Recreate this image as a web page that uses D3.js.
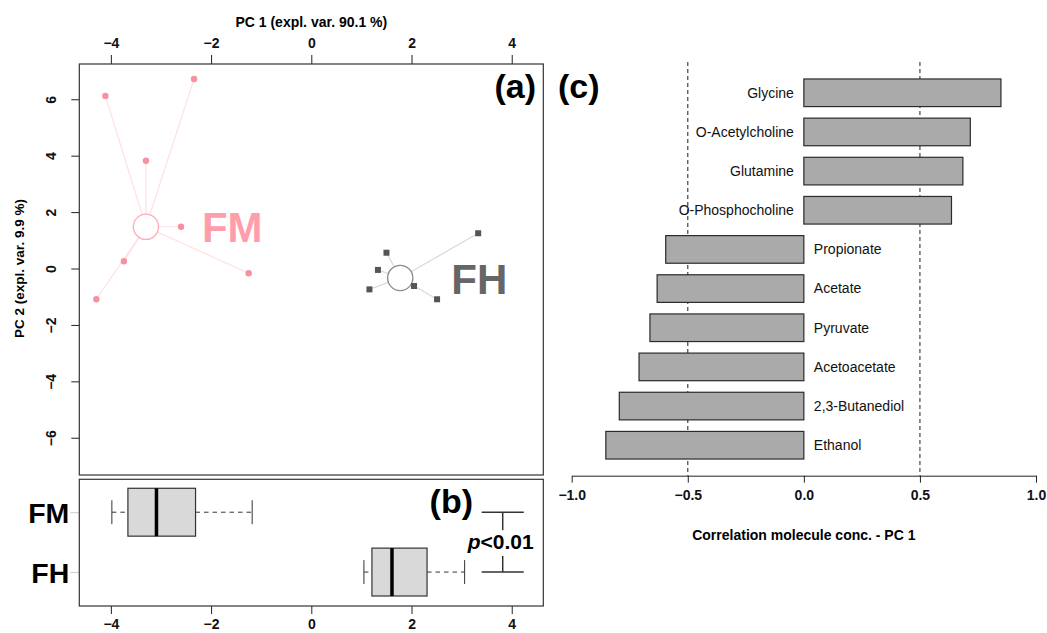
<!DOCTYPE html>
<html>
<head>
<meta charset="utf-8">
<script src="https://cdn.jsdelivr.net/npm/d3@7"></script>
<style>
  body { margin: 0; background: #fff; }
  svg { display: block; font-family: "Liberation Sans", Arial, sans-serif; }
</style>
</head>
<body>
<div class="chart"></div>
<script>
// PCA scores, group FM (pink circles)
const fmPC1 = [-4.11, -2.34, -3.30, -2.60, -1.25, -3.74, -4.29];
const fmPC2 = [6.12, 6.72, 3.82, 1.48, -0.17, 0.26, -1.09];
// PCA scores, group FH (grey squares)
const fhPC1 = [3.33, 1.50, 1.33, 1.16, 2.05, 2.51];
const fhPC2 = [1.25, 0.56, -0.05, -0.74, -0.62, -1.09];

// boxplot stats on PC 1: [lower whisker, q1, median, q3, upper whisker]
const groups = ['FM', 'FH'];
const boxFM = [-3.98, -3.66, -3.09, -2.31, -1.18];
const boxFH = [1.05, 1.21, 1.61, 2.31, 3.06];
const pLabel = 'p<0.01';

// correlation of molecule concentration with PC 1
const molecules = ['Glycine', 'O-Acetylcholine', 'Glutamine', 'O-Phosphocholine', 'Propionate',
  'Acetate', 'Pyruvate', 'Acetoacetate', '2,3-Butanediol', 'Ethanol'];
const correlations = [0.849, 0.717, 0.685, 0.636, -0.595, -0.632, -0.663, -0.710, -0.795, -0.853];

const pcTicks = [-4, -2, 0, 2, 4];
const pc2Ticks = [-6, -4, -2, 0, 2, 4, 6];
const corTicks = [-1.0, -0.5, 0.0, 0.5, 1.0];
const thresholds = [-0.5, 0.5];

const W = 1047, H = 633;
const pink = '#f8909f', pinkText = '#ff9dab', pinkLine = '#ffe0e4', pinkCircle = '#ffacb8';
const grey = '#555555', greyText = '#666666', greyLine = '#d9d9d9', greyCircle = '#8a8a8a';
const minus = d => d < 0 ? '\u2212' + Math.abs(d) : d;

const svg = d3.select('.chart')
  .append('svg')
    .attr('width', W)
    .attr('height', H);

// ---------- panel (a): score plot ----------
const a = { left: 79.3, right: 543.3, top: 64, bottom: 475 };
const x = d3.scaleLinear().domain([-4.63, 4.63]).range([a.left, a.right]);
const y = d3.scaleLinear().domain([-7.32, 7.25]).range([a.bottom, a.top]);

svg.append('g')
    .attr('transform', `translate(0, ${a.top})`)
    .call(d3.axisTop(x).tickValues(pcTicks).tickSize(9))
    .call(g => g.select('.domain').remove())
    .call(g => g.selectAll('line').attr('stroke', '#222'))
    .call(g => g.selectAll('text').attr('font-size', 14).attr('font-weight', 'bold')
      .attr('fill', '#111').attr('dy', '-0.3em').text(minus));

svg.append('g')
    .attr('transform', `translate(${a.left}, 0)`)
    .call(d3.axisLeft(y).tickValues(pc2Ticks).tickSize(8))
    .call(g => g.select('.domain').remove())
    .call(g => g.selectAll('line').attr('stroke', '#222'))
    .call(g => g.selectAll('text')
      .attr('font-size', 14).attr('font-weight', 'bold').attr('fill', '#111')
      .attr('x', null)
      .attr('text-anchor', 'middle')
      .attr('transform', 'translate(-28, 0) rotate(-90)')
      .attr('dy', '0.35em')
      .text(minus));

svg.append('text')
    .attr('x', (a.left + a.right) / 2)
    .attr('y', 27)
    .attr('text-anchor', 'middle')
    .attr('font-size', 14).attr('font-weight', 'bold')
    .text('PC 1 (expl. var. 90.1 %)');

svg.append('text')
    .attr('transform', `translate(24, ${y(0)}) rotate(-90)`)
    .attr('text-anchor', 'middle')
    .attr('font-size', 13.5).attr('font-weight', 'bold')
    .text('PC 2 (expl. var. 9.9 %)');

function drawGroup(px, py, cfg) {
  const pts = px.map((v, i) => ({ x: v, y: py[i] }));
  const cx = d3.median(px), cy = d3.median(py);
  const g = svg.append('g');
  g.selectAll('line')
    .data(pts)
    .enter()
    .append('line')
      .attr('x1', x(cx)).attr('y1', y(cy))
      .attr('x2', d => x(d.x)).attr('y2', d => y(d.y))
      .attr('stroke', cfg.line).attr('stroke-width', 1.2);
  g.append('circle')
    .attr('cx', x(cx)).attr('cy', y(cy)).attr('r', 12.6)
    .attr('fill', '#fff').attr('stroke', cfg.circle).attr('stroke-width', 1.3);
  if (cfg.shape === 'circle') {
    g.selectAll('.pt').data(pts).enter().append('circle')
      .attr('class', 'pt')
      .attr('cx', d => x(d.x)).attr('cy', d => y(d.y)).attr('r', 3.2)
      .attr('fill', cfg.point);
  } else {
    g.selectAll('.pt').data(pts).enter().append('rect')
      .attr('class', 'pt')
      .attr('x', d => x(d.x) - 3).attr('y', d => y(d.y) - 3)
      .attr('width', 6).attr('height', 6)
      .attr('fill', cfg.point);
  }
  g.append('text')
    .attr('x', x(cx) + cfg.dx).attr('y', y(cy) + 0.35 * cfg.size + 1)
    .attr('font-size', cfg.size).attr('font-weight', 'bold')
    .attr('fill', cfg.text)
    .text(cfg.label);
}

drawGroup(fmPC1, fmPC2, { shape: 'circle', point: pink, line: pinkLine, circle: pinkCircle,
  text: pinkText, label: 'FM', size: 42, dx: 56 });
drawGroup(fhPC1, fhPC2, { shape: 'rect', point: grey, line: greyLine, circle: greyCircle,
  text: greyText, label: 'FH', size: 42, dx: 51 });

svg.append('rect')
    .attr('x', a.left).attr('y', a.top)
    .attr('width', a.right - a.left).attr('height', a.bottom - a.top)
    .attr('fill', 'none').attr('stroke', '#333').attr('stroke-width', 1.2);

svg.append('text')
    .attr('x', 536).attr('y', 98)
    .attr('text-anchor', 'end')
    .attr('font-size', 34).attr('font-weight', 'bold')
    .text('(a)');

// ---------- panel (b): boxplots of PC 1 ----------
const b = { top: 479.3, bottom: 606 };
const yb = d3.scaleLinear().domain([0.433, 2.55]).range([b.bottom, b.top]);
const boxes = [
  { name: groups[0], pos: 2, s: boxFM },
  { name: groups[1], pos: 1, s: boxFH }
];
const boxH = yb(0) - yb(0.8);

svg.append('g')
    .attr('transform', `translate(0, ${b.bottom})`)
    .call(d3.axisBottom(x).tickValues(pcTicks).tickSize(8))
    .call(g => g.select('.domain').remove())
    .call(g => g.selectAll('line').attr('stroke', '#222'))
    .call(g => g.selectAll('text').attr('font-size', 14).attr('font-weight', 'bold')
      .attr('fill', '#111').attr('dy', '0.85em').text(minus));

svg.append('g')
    .attr('transform', `translate(${a.left}, 0)`)
    .call(d3.axisLeft(yb).tickValues(boxes.map(d => d.pos)).tickSize(9)
      .tickFormat(p => boxes.find(d => d.pos === p).name))
    .call(g => g.select('.domain').remove())
    .call(g => g.selectAll('line').attr('stroke', '#ccc'))
    .call(g => g.selectAll('text').attr('font-size', 28.5).attr('font-weight', 'bold')
      .attr('fill', '#000').attr('x', -10).attr('dy', '0.35em'));

const bx = svg.append('g').selectAll('g')
  .data(boxes)
  .enter()
  .append('g');

bx.append('line')
    .attr('x1', d => x(d.s[0])).attr('x2', d => x(d.s[1]))
    .attr('y1', d => yb(d.pos)).attr('y2', d => yb(d.pos))
    .attr('stroke', '#333').attr('stroke-dasharray', '4.5,4');
bx.append('line')
    .attr('x1', d => x(d.s[3])).attr('x2', d => x(d.s[4]))
    .attr('y1', d => yb(d.pos)).attr('y2', d => yb(d.pos))
    .attr('stroke', '#333').attr('stroke-dasharray', '4.5,4');
bx.selectAll('.cap')
  .data(d => [d.s[0], d.s[4]].map(v => ({ v, pos: d.pos })))
  .enter()
  .append('line')
    .attr('x1', d => x(d.v)).attr('x2', d => x(d.v))
    .attr('y1', d => yb(d.pos) - boxH / 4).attr('y2', d => yb(d.pos) + boxH / 4)
    .attr('stroke', '#333');
bx.append('rect')
    .attr('x', d => x(d.s[1])).attr('width', d => x(d.s[3]) - x(d.s[1]))
    .attr('y', d => yb(d.pos) - boxH / 2).attr('height', boxH)
    .attr('fill', '#d9d9d9').attr('stroke', '#333').attr('stroke-width', 1.2);
bx.append('line')
    .attr('x1', d => x(d.s[2])).attr('x2', d => x(d.s[2]))
    .attr('y1', d => yb(d.pos) - boxH / 2).attr('y2', d => yb(d.pos) + boxH / 2)
    .attr('stroke', '#000').attr('stroke-width', 3.5);

// significance bracket
const brX = 3.82, brHalf = 0.42;
const br = svg.append('g').attr('stroke', '#333').attr('stroke-width', 1.5);
boxes.forEach(d => {
  br.append('line')
    .attr('x1', x(brX - brHalf)).attr('x2', x(brX + brHalf))
    .attr('y1', yb(d.pos)).attr('y2', yb(d.pos));
});
br.append('line').attr('x1', x(brX)).attr('x2', x(brX))
  .attr('y1', yb(2)).attr('y2', yb(1.7));
br.append('line').attr('x1', x(brX)).attr('x2', x(brX))
  .attr('y1', yb(1.27)).attr('y2', yb(1));
const pt = svg.append('text')
    .attr('x', x(brX) - 2).attr('y', 549)
    .attr('text-anchor', 'middle')
    .attr('font-size', 21).attr('font-weight', 'bold');
pt.append('tspan').attr('font-style', 'italic').text(pLabel.slice(0, 1));
pt.append('tspan').text(pLabel.slice(1));

svg.append('rect')
    .attr('x', a.left).attr('y', b.top)
    .attr('width', a.right - a.left).attr('height', b.bottom - b.top)
    .attr('fill', 'none').attr('stroke', '#333').attr('stroke-width', 1.2);

svg.append('text')
    .attr('x', 473).attr('y', 513)
    .attr('text-anchor', 'end')
    .attr('font-size', 34).attr('font-weight', 'bold')
    .text('(b)');

// ---------- panel (c): correlation bars ----------
const c = { axisY: 475.7 };
const xc = d3.scaleLinear().domain([-1, 1]).range([571.7, 1036]);
const yc = d3.scaleBand()
  .domain(molecules)
  .range([73.1, 464.9])
  .paddingInner(0.295)
  .paddingOuter(0.15);

svg.selectAll('.thr')
  .data(thresholds)
  .enter()
  .append('line')
    .attr('class', 'thr')
    .attr('x1', d => xc(d)).attr('x2', d => xc(d))
    .attr('y1', 62).attr('y2', c.axisY)
    .attr('stroke', '#444').attr('stroke-width', 1.2)
    .attr('stroke-dasharray', '4,3');

svg.selectAll('.bar')
  .data(molecules)
  .enter()
  .append('rect')
    .attr('class', 'bar')
    .attr('x', (d, i) => xc(Math.min(0, correlations[i])))
    .attr('width', (d, i) => Math.abs(xc(correlations[i]) - xc(0)))
    .attr('y', d => yc(d))
    .attr('height', yc.bandwidth())
    .attr('fill', '#aaaaaa')
    .attr('stroke', '#2b2b2b').attr('stroke-width', 1.2);

svg.selectAll('.lab')
  .data(molecules)
  .enter()
  .append('text')
    .attr('class', 'lab')
    .attr('x', (d, i) => correlations[i] > 0 ? xc(0) - 10 : xc(0) + 10)
    .attr('y', d => yc(d) + yc.bandwidth() / 2)
    .attr('dy', '0.35em')
    .attr('text-anchor', (d, i) => correlations[i] > 0 ? 'end' : 'start')
    .attr('font-size', 14)
    .attr('fill', '#111')
    .text(d => d);

svg.append('g')
    .attr('transform', `translate(0, ${c.axisY})`)
    .call(d3.axisBottom(xc).tickValues(corTicks).tickSize(7).tickSizeOuter(0)
      .tickFormat(d => (d < 0 ? '\u2212' : '') + Math.abs(d).toFixed(1)))
    .call(g => g.select('.domain').attr('stroke', '#222'))
    .call(g => g.selectAll('line').attr('stroke', '#222'))
    .call(g => g.selectAll('text').attr('font-size', 14).attr('font-weight', 'bold')
      .attr('fill', '#111').attr('dy', '1.05em'));

svg.append('text')
    .attr('x', xc(0))
    .attr('y', 540)
    .attr('text-anchor', 'middle')
    .attr('font-size', 14).attr('font-weight', 'bold')
    .text('Correlation molecule conc. - PC 1');

svg.append('text')
    .attr('x', 558).attr('y', 98)
    .attr('font-size', 34).attr('font-weight', 'bold')
    .text('(c)');
</script>
</body>
</html>
